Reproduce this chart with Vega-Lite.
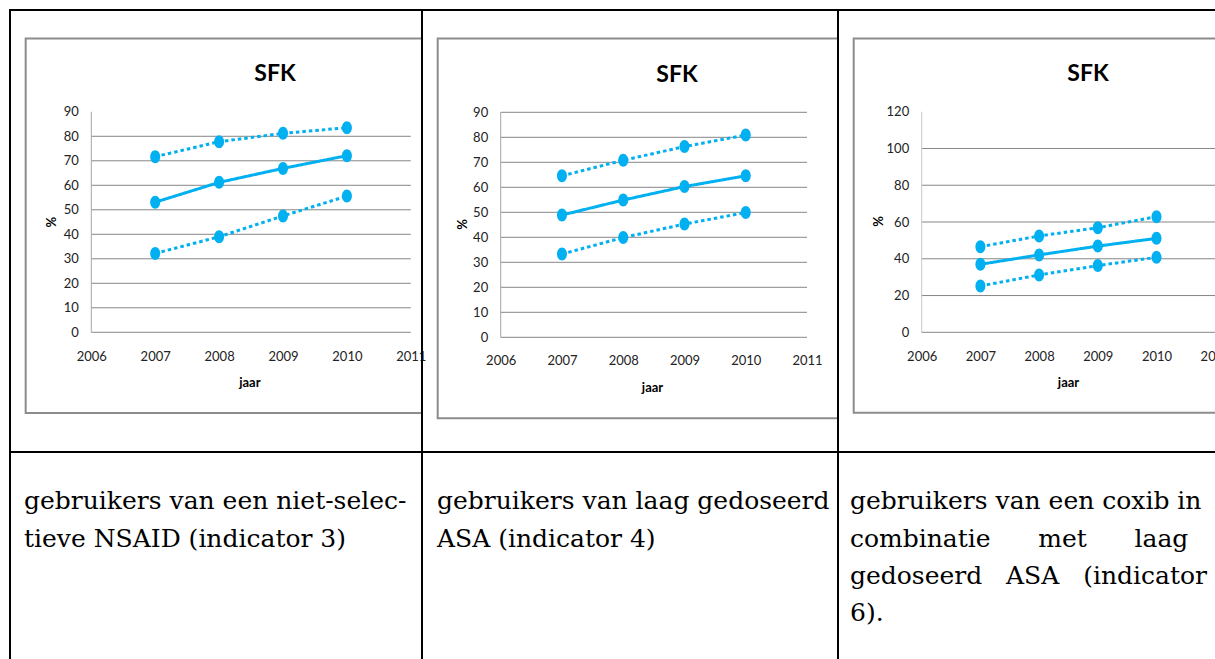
{
  "$schema": "https://vega.github.io/schema/vega-lite/v6.json",
  "padding": {"left": 9, "top": 9, "right": -24, "bottom": -18},
  "background": "white",
  "datasets": {
    "kader": [{"element": "grafiekgebied"}],
    "nsaid": [
      {"jaar": 2007, "reeks": "bovengrens", "waarde": 71.7},
      {"jaar": 2008, "reeks": "bovengrens", "waarde": 77.8},
      {"jaar": 2009, "reeks": "bovengrens", "waarde": 81.2},
      {"jaar": 2010, "reeks": "bovengrens", "waarde": 83.5},
      {"jaar": 2007, "reeks": "SFK", "waarde": 53.1},
      {"jaar": 2008, "reeks": "SFK", "waarde": 61.2},
      {"jaar": 2009, "reeks": "SFK", "waarde": 66.9},
      {"jaar": 2010, "reeks": "SFK", "waarde": 72.1},
      {"jaar": 2007, "reeks": "ondergrens", "waarde": 32.2},
      {"jaar": 2008, "reeks": "ondergrens", "waarde": 39.0},
      {"jaar": 2009, "reeks": "ondergrens", "waarde": 47.5},
      {"jaar": 2010, "reeks": "ondergrens", "waarde": 55.6}
    ],
    "asa": [
      {"jaar": 2007, "reeks": "bovengrens", "waarde": 64.6},
      {"jaar": 2008, "reeks": "bovengrens", "waarde": 70.8},
      {"jaar": 2009, "reeks": "bovengrens", "waarde": 76.3},
      {"jaar": 2010, "reeks": "bovengrens", "waarde": 80.9},
      {"jaar": 2007, "reeks": "SFK", "waarde": 48.9},
      {"jaar": 2008, "reeks": "SFK", "waarde": 54.9},
      {"jaar": 2009, "reeks": "SFK", "waarde": 60.3},
      {"jaar": 2010, "reeks": "SFK", "waarde": 64.6},
      {"jaar": 2007, "reeks": "ondergrens", "waarde": 33.3},
      {"jaar": 2008, "reeks": "ondergrens", "waarde": 39.9},
      {"jaar": 2009, "reeks": "ondergrens", "waarde": 45.3},
      {"jaar": 2010, "reeks": "ondergrens", "waarde": 49.9}
    ],
    "coxib_asa": [
      {"jaar": 2007, "reeks": "bovengrens", "waarde": 46.6},
      {"jaar": 2008, "reeks": "bovengrens", "waarde": 52.4},
      {"jaar": 2009, "reeks": "bovengrens", "waarde": 56.9},
      {"jaar": 2010, "reeks": "bovengrens", "waarde": 62.9},
      {"jaar": 2007, "reeks": "SFK", "waarde": 37.0},
      {"jaar": 2008, "reeks": "SFK", "waarde": 42.1},
      {"jaar": 2009, "reeks": "SFK", "waarde": 46.9},
      {"jaar": 2010, "reeks": "SFK", "waarde": 51.1},
      {"jaar": 2007, "reeks": "ondergrens", "waarde": 25.2},
      {"jaar": 2008, "reeks": "ondergrens", "waarde": 31.2},
      {"jaar": 2009, "reeks": "ondergrens", "waarde": 36.3},
      {"jaar": 2010, "reeks": "ondergrens", "waarde": 40.8}
    ],
    "raster_90a": [{"waarde": 0}, {"waarde": 10}, {"waarde": 20}, {"waarde": 30}, {"waarde": 40}, {"waarde": 50}, {"waarde": 60}, {"waarde": 70}, {"waarde": 80}],
    "raster_90b": [{"waarde": 0}, {"waarde": 10}, {"waarde": 20}, {"waarde": 30}, {"waarde": 40}, {"waarde": 50}, {"waarde": 60}, {"waarde": 70}, {"waarde": 80}, {"waarde": 90}],
    "raster_120": [{"waarde": 0}, {"waarde": 20}, {"waarde": 40}, {"waarde": 60}, {"waarde": 80}, {"waarde": 100}],
    "tekst_nsaid": [
      {"regel": 1, "tekst": "gebruikers van een niet-selec-"},
      {"regel": 2, "tekst": "tieve NSAID (indicator 3)"}
    ],
    "tekst_asa": [
      {"regel": 1, "tekst": "gebruikers van laag gedoseerd"},
      {"regel": 2, "tekst": "ASA (indicator 4)"}
    ],
    "tekst_coxib": [
      {"regel": 1, "tekst": "gebruikers van een coxib in"},
      {"regel": 2, "tekst": "combinatie\u00a0\u00a0\u00a0\u00a0\u00a0\u00a0met\u00a0\u00a0\u00a0\u00a0\u00a0\u00a0laag"},
      {"regel": 3, "tekst": "gedoseerd\u00a0\u00a0\u00a0ASA\u00a0\u00a0\u00a0(indicator"},
      {"regel": 4, "tekst": "6)."}
    ]
  },
  "concat": [
    {
      "width": 412, "height": 442,
      "title": {"text": "SFK", "dx": 59, "dy": 80},
      "layer": [
        {"data": {"name": "kader"}, "mark": {"type": "rect", "fillOpacity": 0, "stroke": "#8c8c8c", "strokeWidth": 2, "clip": true},
         "encoding": {
           "x": {"datum": 2004.973, "type": "quantitative", "scale": {"domain": [2004.7277, 2011.1753], "nice": false, "zero": false}},
           "x2": {"datum": 2012},
           "y": {"datum": -32.9, "type": "quantitative", "scale": {"domain": [-48.86, 131.55], "nice": false, "zero": false}},
           "y2": {"datum": 119.9}}},
        {"data": {"name": "raster_90a"}, "mark": {"type": "rule", "color": "#868686", "strokeWidth": 1},
         "encoding": {
           "x": {"datum": 2006, "type": "quantitative", "scale": {"domain": [2004.7277, 2011.1753], "nice": false, "zero": false}},
           "x2": {"datum": 2011},
           "y": {"field": "waarde", "type": "quantitative", "scale": {"domain": [-48.86, 131.55], "nice": false, "zero": false}}}},
        {"data": {"name": "kader"}, "mark": {"type": "rule", "color": "#a6a6a6", "strokeWidth": 1},
         "encoding": {
           "x": {"datum": 2006, "type": "quantitative", "scale": {"domain": [2004.7277, 2011.1753], "nice": false, "zero": false}},
           "y": {"datum": 0, "type": "quantitative", "scale": {"domain": [-48.86, 131.55], "nice": false, "zero": false}},
           "y2": {"datum": 90}}},
        {"data": {"name": "nsaid"}, "mark": {"type": "line", "color": "#00b0f0", "strokeWidth": 3},
         "encoding": {
           "x": {"field": "jaar", "type": "quantitative", "scale": {"domain": [2004.7277, 2011.1753], "nice": false, "zero": false},
                 "axis": {"values": [2006, 2007, 2008, 2009, 2010, 2011], "format": "d", "offset": -119.7, "labelPadding": 23.7, "labelBaseline": "middle", "title": "jaar", "titleX": 239.3, "titleY": 50.4}},
           "y": {"field": "waarde", "type": "quantitative", "scale": {"domain": [-48.86, 131.55], "nice": false, "zero": false},
                 "axis": {"values": [0, 10, 20, 30, 40, 50, 60, 70, 80, 90], "offset": -81.3, "labelPadding": 13, "title": "%", "titleX": -39.6, "titleY": 211.7}},
           "detail": {"field": "reeks"},
           "strokeDash": {"field": "reeks", "scale": {"domain": ["bovengrens", "SFK", "ondergrens"], "range": [[3.5, 3], [1, 0], [3.5, 3]]}, "legend": null}}},
        {"data": {"name": "nsaid"}, "mark": {"type": "point", "shape": "M0,-1A0.77,1,0,1,1,0,1A0.77,1,0,1,1,0,-1Z", "filled": true, "opacity": 1, "size": 169, "color": "#00b0f0"},
         "encoding": {
           "x": {"field": "jaar", "type": "quantitative", "scale": {"domain": [2004.7277, 2011.1753], "nice": false, "zero": false}},
           "y": {"field": "waarde", "type": "quantitative", "scale": {"domain": [-48.86, 131.55], "nice": false, "zero": false}}}}
      ]
    },
    {
      "width": 416, "height": 442,
      "title": {"text": "SFK", "dx": 47, "dy": 81},
      "layer": [
        {"data": {"name": "kader"}, "mark": {"type": "rect", "fillOpacity": 0, "stroke": "#8c8c8c", "strokeWidth": 2, "clip": true},
         "encoding": {
           "x": {"datum": 2004.9716, "type": "quantitative", "scale": {"domain": [2004.7153, 2011.506], "nice": false, "zero": false}},
           "x2": {"datum": 2012},
           "y": {"datum": -32.4, "type": "quantitative", "scale": {"domain": [-45.88, 130.92], "nice": false, "zero": false}},
           "y2": {"datum": 119.5}}},
        {"data": {"name": "raster_90b"}, "mark": {"type": "rule", "color": "#868686", "strokeWidth": 1},
         "encoding": {
           "x": {"datum": 2006, "type": "quantitative", "scale": {"domain": [2004.7153, 2011.506], "nice": false, "zero": false}},
           "x2": {"datum": 2011},
           "y": {"field": "waarde", "type": "quantitative", "scale": {"domain": [-45.88, 130.92], "nice": false, "zero": false}}}},
        {"data": {"name": "kader"}, "mark": {"type": "rule", "color": "#a6a6a6", "strokeWidth": 1},
         "encoding": {
           "x": {"datum": 2006, "type": "quantitative", "scale": {"domain": [2004.7153, 2011.506], "nice": false, "zero": false}},
           "y": {"datum": 0, "type": "quantitative", "scale": {"domain": [-45.88, 130.92], "nice": false, "zero": false}},
           "y2": {"datum": 90}}},
        {"data": {"name": "asa"}, "mark": {"type": "line", "color": "#00b0f0", "strokeWidth": 3},
         "encoding": {
           "x": {"field": "jaar", "type": "quantitative", "scale": {"domain": [2004.7153, 2011.506], "nice": false, "zero": false},
                 "axis": {"values": [2006, 2007, 2008, 2009, 2010, 2011], "format": "d", "offset": -114.7, "labelPadding": 23.4, "labelBaseline": "middle", "title": "jaar", "titleX": 230, "titleY": 50.4}},
           "y": {"field": "waarde", "type": "quantitative", "scale": {"domain": [-45.88, 130.92], "nice": false, "zero": false},
                 "axis": {"values": [0, 10, 20, 30, 40, 50, 60, 70, 80, 90], "offset": -78.7, "labelPadding": 13, "title": "%", "titleX": -38, "titleY": 214}},
           "detail": {"field": "reeks"},
           "strokeDash": {"field": "reeks", "scale": {"domain": ["bovengrens", "SFK", "ondergrens"], "range": [[3.5, 3], [1, 0], [3.5, 3]]}, "legend": null}}},
        {"data": {"name": "asa"}, "mark": {"type": "point", "shape": "M0,-1A0.77,1,0,1,1,0,1A0.77,1,0,1,1,0,-1Z", "filled": true, "opacity": 1, "size": 169, "color": "#00b0f0"},
         "encoding": {
           "x": {"field": "jaar", "type": "quantitative", "scale": {"domain": [2004.7153, 2011.506], "nice": false, "zero": false}},
           "y": {"field": "waarde", "type": "quantitative", "scale": {"domain": [-45.88, 130.92], "nice": false, "zero": false}}}}
      ]
    },
    {
      "width": 400, "height": 442,
      "title": {"text": "SFK", "dx": 50, "dy": 80},
      "layer": [
        {"data": {"name": "kader"}, "mark": {"type": "rect", "fillOpacity": 0, "stroke": "#8c8c8c", "strokeWidth": 2, "clip": true},
         "encoding": {
           "x": {"datum": 2004.8416, "type": "quantitative", "scale": {"domain": [2004.5741, 2011.3884], "nice": false, "zero": false}},
           "x2": {"datum": 2012},
           "y": {"datum": -43.7, "type": "quantitative", "scale": {"domain": [-65.11, 175.33], "nice": false, "zero": false}},
           "y2": {"datum": 159.8}}},
        {"data": {"name": "raster_120"}, "mark": {"type": "rule", "color": "#868686", "strokeWidth": 1},
         "encoding": {
           "x": {"datum": 2006, "type": "quantitative", "scale": {"domain": [2004.5741, 2011.3884], "nice": false, "zero": false}},
           "x2": {"datum": 2012},
           "y": {"field": "waarde", "type": "quantitative", "scale": {"domain": [-65.11, 175.33], "nice": false, "zero": false}}}},
        {"data": {"name": "kader"}, "mark": {"type": "rule", "color": "#c8c8c8", "strokeWidth": 1},
         "encoding": {
           "x": {"datum": 2006, "type": "quantitative", "scale": {"domain": [2004.5741, 2011.3884], "nice": false, "zero": false}},
           "y": {"datum": 0, "type": "quantitative", "scale": {"domain": [-65.11, 175.33], "nice": false, "zero": false}},
           "y2": {"datum": 120}}},
        {"data": {"name": "coxib_asa"}, "mark": {"type": "line", "color": "#00b0f0", "strokeWidth": 3},
         "encoding": {
           "x": {"field": "jaar", "type": "quantitative", "scale": {"domain": [2004.5741, 2011.3884], "nice": false, "zero": false},
                 "axis": {"values": [2006, 2007, 2008, 2009, 2010, 2011], "format": "d", "offset": -119.7, "labelPadding": 23.7, "labelBaseline": "middle", "title": "jaar", "titleX": 230, "titleY": 50.4}},
           "y": {"field": "waarde", "type": "quantitative", "scale": {"domain": [-65.11, 175.33], "nice": false, "zero": false},
                 "axis": {"values": [0, 20, 40, 60, 80, 100, 120], "offset": -83.7, "labelPadding": 13, "title": "%", "titleX": -43, "titleY": 211}},
           "detail": {"field": "reeks"},
           "strokeDash": {"field": "reeks", "scale": {"domain": ["bovengrens", "SFK", "ondergrens"], "range": [[3.5, 3], [1, 0], [3.5, 3]]}, "legend": null}}},
        {"data": {"name": "coxib_asa"}, "mark": {"type": "point", "shape": "M0,-1A0.77,1,0,1,1,0,1A0.77,1,0,1,1,0,-1Z", "filled": true, "opacity": 1, "size": 169, "color": "#00b0f0"},
         "encoding": {
           "x": {"field": "jaar", "type": "quantitative", "scale": {"domain": [2004.5741, 2011.3884], "nice": false, "zero": false}},
           "y": {"field": "waarde", "type": "quantitative", "scale": {"domain": [-65.11, 175.33], "nice": false, "zero": false}}}}
      ]
    },
    {"width": 412, "height": 224, "data": {"name": "tekst_nsaid"},
     "mark": {"type": "text", "align": "left", "baseline": "top", "x": 0, "dx": 14, "font": "DejaVu Serif", "fontSize": 25, "color": "black"},
     "encoding": {"y": {"field": "regel", "type": "quantitative", "scale": {"domain": [0, 6], "reverse": true, "nice": false, "zero": false}, "axis": null}, "text": {"field": "tekst"}}},
    {"width": 416, "height": 224, "data": {"name": "tekst_asa"},
     "mark": {"type": "text", "align": "left", "baseline": "top", "x": 0, "dx": 15, "font": "DejaVu Serif", "fontSize": 25, "color": "black"},
     "encoding": {"y": {"field": "regel", "type": "quantitative", "scale": {"domain": [0, 6], "reverse": true, "nice": false, "zero": false}, "axis": null}, "text": {"field": "tekst"}}},
    {"width": 400, "height": 224, "data": {"name": "tekst_coxib"},
     "mark": {"type": "text", "align": "left", "baseline": "top", "x": 0, "dx": 12, "font": "DejaVu Serif", "fontSize": 25, "color": "black"},
     "encoding": {"y": {"field": "regel", "type": "quantitative", "scale": {"domain": [0, 6], "reverse": true, "nice": false, "zero": false}, "axis": null}, "text": {"field": "tekst"}}}
  ],
  "columns": 3,
  "spacing": 0,
  "bounds": "flush",
  "config": {
    "view": {"stroke": "black", "strokeWidth": 2},
    "axis": {
      "domain": false, "ticks": false, "grid": false,
      "labelFont": "Lato", "labelFontSize": 13, "labelColor": "#222222",
      "labelFlush": false, "labelOverlap": false,
      "titleFont": "Lato", "titleFontSize": 13, "titleFontWeight": "bold", "titleColor": "black",
      "titleBaseline": "middle", "titleAlign": "center"
    },
    "title": {
      "font": "Lato", "fontSize": 23, "fontWeight": "bold", "color": "black",
      "anchor": "middle", "frame": "group", "offset": 0, "baseline": "alphabetic"
    }
  }
}
